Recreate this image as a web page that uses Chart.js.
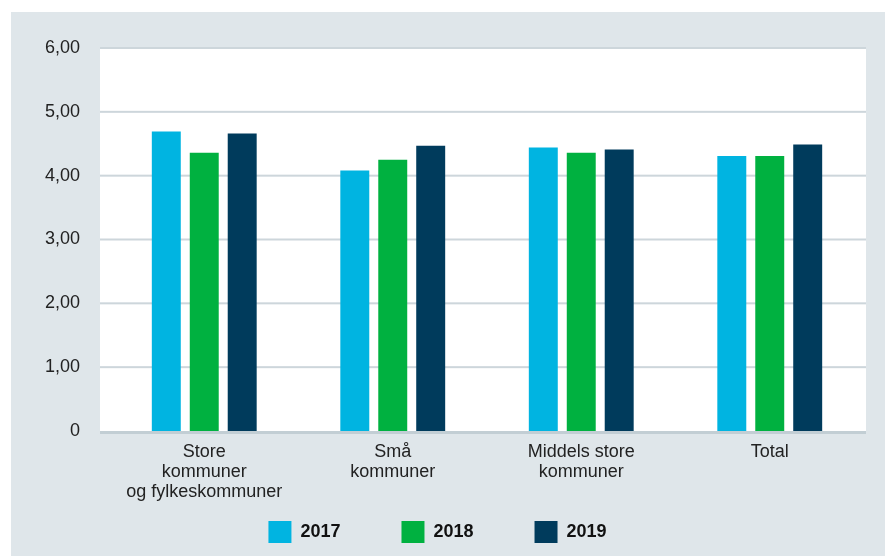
<!DOCTYPE html>
<html>
<head>
<meta charset="utf-8">
<script src="https://cdn.jsdelivr.net/npm/chart.js@4"></script>
<style>
  html, body { margin: 0; padding: 0; background: #ffffff; }
  #panel { position: absolute; left: 11px; top: 12px; width: 874px; height: 544px; background: #dfe6ea; }
  canvas { display: block; }
</style>
</head>
<body>
<div id="panel"><canvas id="c" width="874" height="544"></canvas></div>
<script>
const categories = [
  ["Store", "kommuner", "og fylkeskommuner"],
  ["Små", "kommuner"],
  ["Middels store", "kommuner"],
  ["Total"]
];
const seriesNames = ["2017", "2018", "2019"];
const values2017 = [4.69, 4.08, 4.44, 4.31];
const values2018 = [4.36, 4.25, 4.36, 4.31];
const values2019 = [4.66, 4.47, 4.41, 4.49];
const yTicks = [0, 1, 2, 3, 4, 5, 6];
const colors = ["#00b4e1", "#00b140", "#003b5c"];

const FONT = "'Liberation Sans', Arial, sans-serif";

const bgPlugin = {
  id: 'bgPlugin',
  afterLayout(chart) {
    // let the multi-line category labels extend below the axis box
    chart.scales.x.bottom = chart.height;
  },
  beforeDatasetsDraw(chart) {
    const { ctx, chartArea, scales } = chart;
    const left = chartArea.left - 10;
    const right = chartArea.right + 2;
    ctx.save();
    ctx.fillStyle = '#ffffff';
    ctx.fillRect(left, chartArea.top - 1, right - left, chartArea.bottom - chartArea.top + 1);
    yTicks.forEach(v => {
      if (v === 0) return;
      const y = scales.y.getPixelForValue(v);
      ctx.fillStyle = '#cdd6db';
      ctx.fillRect(left, y - 1, right - left, 2);
    });
    ctx.restore();
  },
  afterDatasetsDraw(chart) {
    const { ctx, chartArea, scales } = chart;
    const left = chartArea.left - 10;
    const right = chartArea.right + 2;
    const y0 = scales.y.getPixelForValue(0);
    ctx.save();
    ctx.fillStyle = '#c2ced4';
    ctx.fillRect(left, y0, right - left, 3);
    ctx.restore();
  }
};

new Chart(document.getElementById('c'), {
  type: 'bar',
  data: {
    labels: categories,
    datasets: [
      { label: seriesNames[0], data: values2017, backgroundColor: colors[0], borderWidth: 0 },
      { label: seriesNames[1], data: values2018, backgroundColor: colors[1], borderWidth: 0 },
      { label: seriesNames[2], data: values2019, backgroundColor: colors[2], borderWidth: 0 }
    ]
  },
  options: {
    responsive: false,
    animation: false,
    devicePixelRatio: 1,
    layout: { padding: { top: 36, right: 21, bottom: 3, left: 0 } },
    datasets: { bar: { categoryPercentage: 0.604, barPercentage: 0.763 } },
    scales: {
      x: {
        grid: { display: false, drawTicks: false },
        border: { display: false },
        ticks: {
          color: '#222222',
          font: { family: FONT, size: 18, lineHeight: 1.12 },
          padding: 11,
          maxRotation: 0,
          autoSkip: false
        },
        afterFit(scale) { scale.height = 29; }
      },
      y: {
        min: 0, max: 6,
        afterBuildTicks(scale) { scale.ticks = yTicks.map(v => ({ value: v })); },
        grid: { display: false, drawTicks: false },
        border: { display: false },
        ticks: {
          color: '#222222',
          font: { family: FONT, size: 18 },
          padding: 30,
          callback: v => v === 0 ? '0' : v.toFixed(2).replace('.', ',')
        },
        afterFit(scale) { scale.width = 99; scale.paddingTop = 0; scale.paddingBottom = 0; }
      }
    },
    plugins: {
      legend: {
        position: 'bottom',
        labels: {
          boxWidth: 23,
          boxHeight: 22,
          padding: 61,
          color: '#111111',
          font: { family: FONT, size: 18, weight: 'bold' }
        }
      },
      tooltip: { enabled: false }
    }
  },
  plugins: [bgPlugin]
});
</script>
</body>
</html>
